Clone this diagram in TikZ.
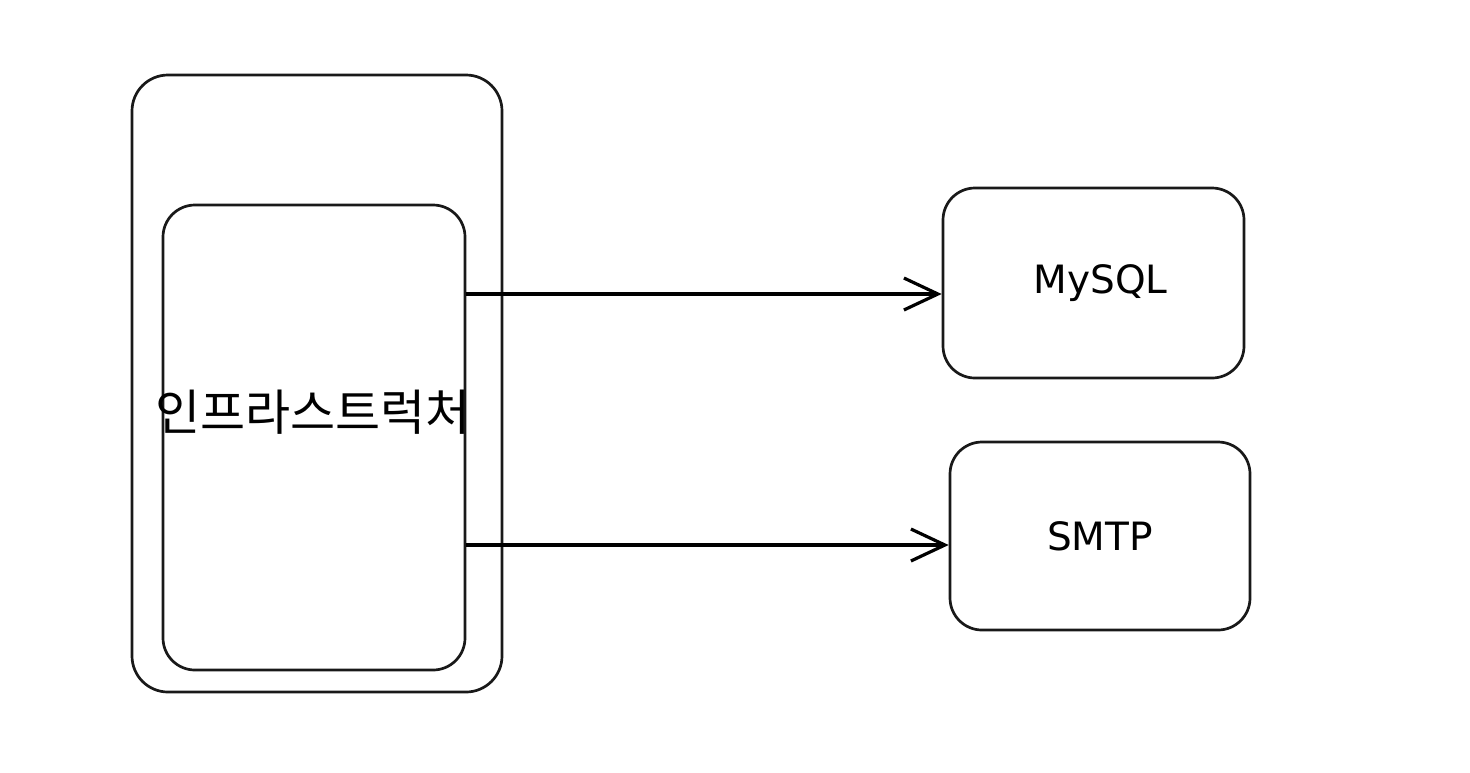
\documentclass[tikz,border=0pt]{standalone}
\usepackage{fontspec}
\setmainfont{DejaVu Sans}
\newfontfamily\cjk{Noto Sans CJK KR}
\usetikzlibrary{arrows.meta}
\begin{document}
\begin{tikzpicture}[x=0.5pt,y=-0.5pt,
  box/.style={draw=black!90, line width=1.35pt, rounded corners=18pt, inner sep=0pt},
  conn/.style={line width=1.7pt, -{Straight Barb[length=17pt,width=16pt,line width=1.6pt]}}]
\useasboundingbox (0,0) rectangle (1470,772);
\node[box, minimum width=185pt, minimum height=308.5pt] (outer) at (317,383.5) {};
\node[box, minimum width=151pt, minimum height=232.5pt, rounded corners=16pt] (inner) at (314,437.5) {};
\node[font=\cjk\fontsize{24.5}{28}\selectfont] (label) at (313,412) {인프라스트럭처};
\node[box, minimum width=150.5pt, minimum height=95pt, rounded corners=16pt, font=\fontsize{19.5}{23}\selectfont] (mysql) at (1093.5,283) {\hspace*{7pt}MySQL};
\node[box, minimum width=150pt, minimum height=94pt, rounded corners=16pt, font=\fontsize{19.5}{23}\selectfont] (smtp) at (1100,536) {SMTP};
\draw[conn] (inner.east |- 0,294) -- (mysql.west |- 0,294);
\draw[conn] (inner.east |- 0,545) -- (smtp.west |- 0,545);
\end{tikzpicture}
\end{document}
